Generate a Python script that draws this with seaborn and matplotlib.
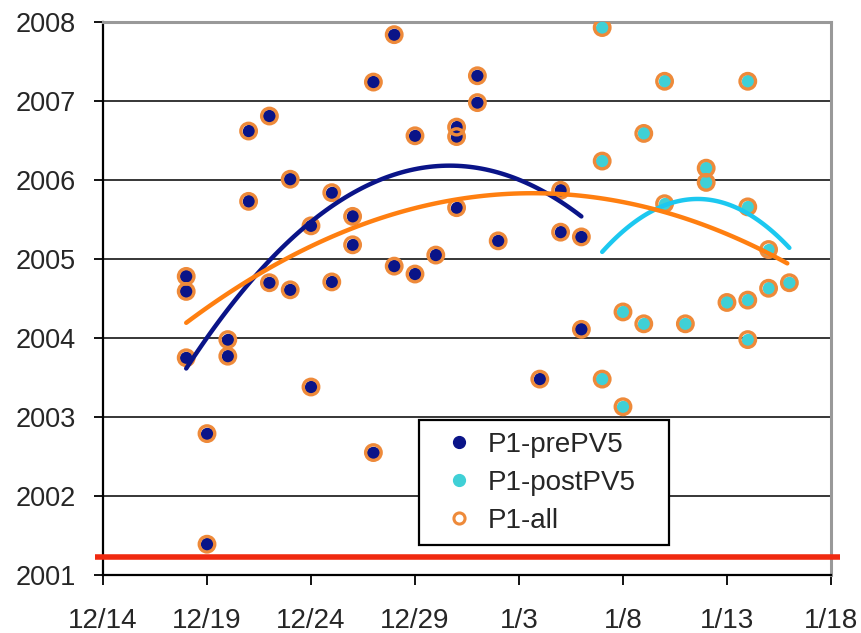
import numpy as np
import matplotlib
matplotlib.use("Agg")
import matplotlib.pyplot as plt
import matplotlib.transforms as mtransforms
from matplotlib.lines import Line2D
import seaborn as sns

# ---------------- data ----------------
pre_dates = ["12/18", "12/18", "12/18", "12/19", "12/19", "12/20", "12/20",
             "12/21", "12/21", "12/22", "12/22", "12/23", "12/23", "12/24", "12/24",
             "12/25", "12/25", "12/26", "12/26", "12/27", "12/27", "12/28", "12/28",
             "12/29", "12/29", "12/30", "12/31", "12/31", "12/31", "1/1", "1/1",
             "1/2", "1/4", "1/5", "1/5", "1/6", "1/6"]
pre_values = [2004.78, 2004.59, 2003.75, 2002.79, 2001.39, 2003.98, 2003.77,
              2006.62, 2005.73, 2006.81, 2004.70, 2006.01, 2004.61, 2005.42, 2003.38,
              2005.84, 2004.71, 2005.54, 2005.18, 2007.24, 2002.55, 2007.84, 2004.91,
              2006.56, 2004.81, 2005.05, 2006.67, 2006.55, 2005.65, 2007.32, 2006.98,
              2005.23, 2003.48, 2005.87, 2005.34, 2005.28, 2004.11]

post_dates = ["1/7", "1/7", "1/7", "1/8", "1/8", "1/9", "1/9", "1/10", "1/10",
              "1/11", "1/12", "1/12", "1/13", "1/14", "1/14", "1/14", "1/14",
              "1/15", "1/15", "1/16"]
post_values = [2007.93, 2006.24, 2003.48, 2004.33, 2003.13, 2006.59, 2004.18,
               2007.25, 2005.70, 2004.18, 2006.15, 2005.97, 2004.45, 2007.25,
               2005.66, 2004.48, 2003.98, 2005.12, 2004.63, 2004.70]

# polynomial trend lines (days since 12/14, value)
trend_pre_x = [4.0, 9.95, 11.9, 17.2, 23.0]
trend_pre_y = [2003.61, 2005.49, 2005.79, 2006.18, 2005.54]
trend_post_x = [24.0, 26.8, 29.0, 31.0, 33.0]
trend_post_y = [2005.09, 2005.66, 2005.75, 2005.58, 2005.14]
trend_all_x = [4.0, 9.0, 11.9, 17.0, 20.5, 22.9, 26.8, 31.6, 32.9]
trend_all_y = [2004.21, 2005.01, 2005.37, 2005.75, 2005.84, 2005.81, 2005.62,
               2005.14, 2004.92]

x_tick_labels = ["12/14", "12/19", "12/24", "12/29", "1/3", "1/8", "1/13", "1/18"]
y_ticks = [2001, 2002, 2003, 2004, 2005, 2006, 2007, 2008]
threshold = 2001.23
series_names = ["P1-prePV5", "P1-postPV5", "P1-all"]


def to_day(s):
    """days since 12/14"""
    m, d = (int(v) for v in s.split("/"))
    return d - 14 if m == 12 else 17 + d


pre_x = np.array([to_day(s) for s in pre_dates], dtype=float)
post_x = np.array([to_day(s) for s in post_dates], dtype=float)
pre_y = np.array(pre_values)
post_y = np.array(post_values)
all_x = np.concatenate([pre_x, post_x])
all_y = np.concatenate([pre_y, post_y])
tick_pos = [to_day(s) for s in x_tick_labels]

# ---------------- style ----------------
sns.set_style("white")
plt.rcParams["font.family"] = ["Liberation Sans", "DejaVu Sans"]

NAVY = "#0A1488"
CYAN = "#3FD0D6"
CYAN_LINE = "#1CC8F0"
ORANGE_RING = "#EE8A3A"
ORANGE_LINE = "#FF7F10"
RED = "#F02A10"

fig = plt.figure(figsize=(8.62, 6.33), dpi=100)
ax = fig.add_axes([0.1195, 0.0916, 0.8445, 0.8736])

# scatter points
sns.scatterplot(x=pre_x, y=pre_y, ax=ax, color=NAVY, s=95, linewidth=0, zorder=3)
sns.scatterplot(x=post_x, y=post_y, ax=ax, color=CYAN, s=95, linewidth=0, zorder=3)
ax.scatter(all_x, all_y, s=125, facecolors="none", edgecolors=ORANGE_RING,
           linewidths=2.4, zorder=4)

# quadratic trend lines
sns.regplot(x=trend_pre_x, y=trend_pre_y, order=2, ci=None, scatter=False, ax=ax,
            line_kws=dict(color=NAVY, lw=3.2, zorder=6))
sns.regplot(x=trend_post_x, y=trend_post_y, order=2, ci=None, scatter=False, ax=ax,
            line_kws=dict(color=CYAN_LINE, lw=3.2, zorder=6))
sns.regplot(x=trend_all_x, y=trend_all_y, order=2, ci=None, scatter=False, ax=ax,
            line_kws=dict(color=ORANGE_LINE, lw=3.2, zorder=6))

# red threshold line (extends slightly beyond the plot area)
trans = mtransforms.blended_transform_factory(ax.transAxes, ax.transData)
ax.plot([-0.011, 1.013], [threshold, threshold], color=RED, lw=4, transform=trans,
        clip_on=False, zorder=7, solid_capstyle="butt")

# axes
ax.set_xlim(0, 35)
ax.set_ylim(2001, 2008)
ax.set_xticks(tick_pos)
ax.set_xticklabels(x_tick_labels)
ax.set_yticks(y_ticks)
ax.set_yticklabels([str(v) for v in y_ticks])
ax.set_xlabel("")
ax.set_ylabel("")
ax.yaxis.grid(True, color="black", lw=1.1)
ax.xaxis.grid(False)
ax.set_axisbelow(True)

for side in ["left", "bottom"]:
    ax.spines[side].set_color("black")
    ax.spines[side].set_linewidth(1.6)
for side in ["top", "right"]:
    ax.spines[side].set_color("#999999")
    ax.spines[side].set_linewidth(2.2)
    ax.spines[side].set_visible(True)

ax.tick_params(axis="x", direction="out", length=7, width=1.3, color="black",
               labelsize=20, pad=17, bottom=True)
ax.tick_params(axis="y", direction="out", length=6.5, width=1.3, color="black",
               labelsize=19.5, pad=13, left=True)

# legend
handles = [
    Line2D([], [], ls="none", marker="o", markersize=8.5, markerfacecolor=NAVY,
           markeredgecolor=NAVY),
    Line2D([], [], ls="none", marker="o", markersize=8.5, markerfacecolor=CYAN,
           markeredgecolor=CYAN),
    Line2D([], [], ls="none", marker="o", markersize=8, markerfacecolor="white",
           markeredgecolor=ORANGE_RING, markeredgewidth=2.2),
]
leg = ax.legend(handles, series_names, loc="upper left",
                bbox_to_anchor=(419 / 862, 1 - 426 / 633, 250 / 862, 0.01),
                bbox_transform=fig.transFigure, mode="expand", borderaxespad=0,
                fontsize=20, frameon=True, fancybox=False, framealpha=1,
                borderpad=0.43, handlelength=2.0, handletextpad=0.05,
                labelspacing=0.43)
leg.get_frame().set_edgecolor("black")
leg.get_frame().set_linewidth(1.6)
leg.set_zorder(10)

fig.savefig("out.png", dpi=100)
